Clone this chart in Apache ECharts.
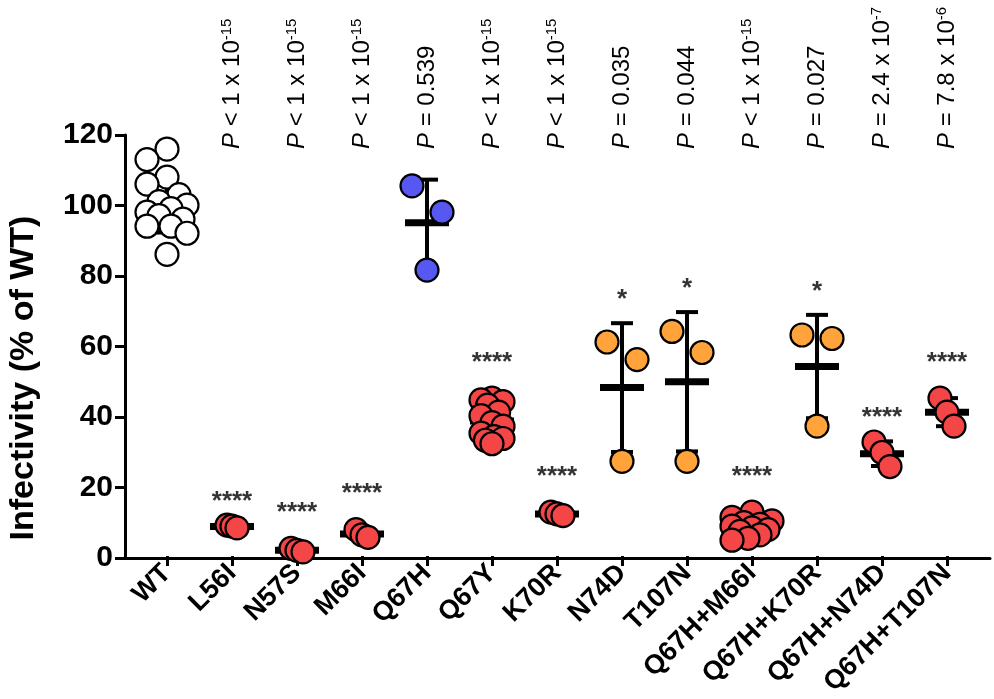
<!DOCTYPE html>
<html><head><meta charset="utf-8">
<script src="https://cdn.jsdelivr.net/npm/echarts@6/dist/echarts.min.js"></script>
<style>html,body{margin:0;padding:0;background:#fff}#c{width:994px;height:699px}</style>
</head><body><div id="c"></div>
<script>
// ---- data ----
const categories = ['WT','L56I','N57S','M66I','Q67H','Q67Y','K70R','N74D','T107N','Q67H+M66I','Q67H+K70R','Q67H+N74D','Q67H+T107N'];
const wtValues = [116,113,108,106,103,101,100,99,98,97,96,94,94,92,86];
const l56iValues = [8.8,8.5,8.0];
const n57sValues = [2.2,1.6,1.2];
const m66iValues = [7.5,6.0,5.3];
const q67hValues = [105.5,98,81.5];
const q67yValues = [45,44.5,44,43,41,40,38,37,35,34,33.5,33,32];
const k70rValues = [12.5,12,11.5];
const n74dValues = [61,56,27];
const t107nValues = [64,58,27];
const q67hM66iValues = [12.5,11,10,9.5,9,8.5,8,7.5,7,6,5,4.5];
const q67hK70rValues = [63,62,37];
const q67hN74dValues = [32.5,29.5,25.5];
const q67hT107nValues = [45,41,37];
const significance = ['','****','****','****','','****','****','*','*','****','*','****','****'];
const pMain = ['','< 1 x 10','< 1 x 10','< 1 x 10','= 0.539','< 1 x 10','< 1 x 10','= 0.035','= 0.044','< 1 x 10','= 0.027','= 2.4 x 10','= 7.8 x 10'];
const pExp = ['','-15','-15','-15','','-15','-15','','','-15','','-7','-6'];
const yTicks = {min:0, max:120, interval:20};

// ---- styling ----
const groups = [wtValues,l56iValues,n57sValues,m66iValues,q67hValues,q67yValues,k70rValues,n74dValues,t107nValues,q67hM66iValues,q67hK70rValues,q67hN74dValues,q67hT107nValues];
const WHITE='#ffffff', RED='#f44646', ORANGE='#ffa33a', BLUE='#5757f2';
const groupColors = [WHITE,RED,RED,RED,BLUE,RED,RED,ORANGE,ORANGE,RED,ORANGE,RED,RED];
// horizontal half-width (px) allowed for the point cloud of each column (style)
const spreadHalfWidth = [20,5,6,6,16,11,6,16,16,20,16,8,7];
const FONT = '"Liberation Sans", Arial, Helvetica, sans-serif';
const SYM = 23;

function mean(a){return a.reduce((s,v)=>s+v,0)/a.length;}
function sd(a){const m=mean(a);return Math.sqrt(a.reduce((s,v)=>s+(v-m)*(v-m),0)/(a.length-1));}
const stats = groups.map(g=>({m:mean(g), s:sd(g), max:Math.max(...g)}));

const chart = echarts.init(document.getElementById('c'), null, {renderer:'canvas'});

const option = {
  animation:false,
  backgroundColor:'#fff',
  textStyle:{fontFamily:FONT},
  grid:[
    {left:134.5,right:14.5,top:135,bottom:141},
    {left:125,right:4,top:135,bottom:141}
  ],
  xAxis:[
    {gridIndex:0,type:'category',data:categories,boundaryGap:true,
     axisLine:{show:false},
     axisTick:{show:true,alignWithLabel:true,length:10,lineStyle:{color:'#000',width:3}},
     axisLabel:{interval:0,rotate:45,fontSize:27,fontWeight:'bold',color:'#000',fontFamily:FONT,margin:13},
     splitLine:{show:false}},
    {gridIndex:0,type:'category',position:'top',offset:-16,data:categories,boundaryGap:true,
     axisLine:{show:false},axisTick:{show:false},splitLine:{show:false},
     axisLabel:{interval:0,rotate:-90,margin:2,color:'#000',fontSize:24,fontFamily:FONT,
       formatter:(v,i)=>{ if(!pMain[i]) return ''; return '{p|P} {t|'+pMain[i]+'}'+(pExp[i]?'{sup|'+pExp[i]+'}':''); },
       rich:{p:{fontStyle:'italic',fontSize:24,color:'#000',fontFamily:FONT,lineHeight:26},
             t:{fontSize:24,color:'#000',fontFamily:FONT,lineHeight:26},
             sup:{fontSize:15,color:'#000',fontFamily:FONT,verticalAlign:'top',lineHeight:15}}}},
    {gridIndex:1,type:'value',min:0,max:1,
     axisLine:{show:true,lineStyle:{color:'#000',width:3}},axisTick:{show:false},axisLabel:{show:false},splitLine:{show:false}}
  ],
  yAxis:[
    {gridIndex:0,type:'value',min:yTicks.min,max:yTicks.max,show:false},
    {gridIndex:1,type:'value',min:yTicks.min,max:yTicks.max,interval:yTicks.interval,
     axisLine:{show:true,lineStyle:{color:'#000',width:3}},
     axisTick:{show:true,length:10,lineStyle:{color:'#000',width:3}},
     axisLabel:{fontSize:30,fontWeight:'bold',color:'#000',fontFamily:FONT,margin:12},
     splitLine:{show:false}}
  ],
  graphic:[{type:'text',x:24,y:378,rotation:Math.PI/2,
    style:{text:'Infectivity (% of WT)',font:'bold 34px '+FONT,fill:'#000',textAlign:'center',textVerticalAlign:'middle'}}],
  series:[]
};
chart.setOption(option);

// vertical pixel position helper (from the axis scale)
function py(v){return chart.convertToPixel({xAxisIndex:0,yAxisIndex:0},[0,v])[1];}

// large groups: simple swarm, small groups: symmetric rows of nearby points
function swarm(vals, half){
  const placed=[], out=[];
  const order = vals.map((v,k)=>k).sort((a,b)=>vals[b]-vals[a]);
  const minD=21, steps=5, step=half/steps;
  for(const k of order){
    const y=py(vals[k]); let best=null, bestScore=-1;
    for(let t=0;t<=2*steps;t++){
      const c = t===0?0:((t%2)?-Math.ceil(t/2)*step:Math.ceil(t/2)*step);
      const dmin = placed.length?Math.min(...placed.map(p=>Math.hypot(p.x-c,p.y-y))):Infinity;
      if(dmin>=minD){best=c;break;}
      if(dmin>bestScore+0.01){bestScore=dmin;best=c;}
    }
    placed.push({x:best,y}); out[k]=best;
  }
  const lo=Math.min(...out), hi=Math.max(...out), mid=(lo+hi)/2;
  let r = out.map(o=>o-mid);
  const mx=Math.max(...r.map(Math.abs));
  if(mx>0) r=r.map(o=>o*half/mx);
  return r;
}
function rows(vals, half){
  const order = vals.map((v,k)=>k).sort((a,b)=>vals[b]-vals[a]);
  const out=[]; let bin=[]; let lastY=null;
  const flush=()=>{
    const n=bin.length; const sp = n>1?Math.min(30, 2*half/(n-1)):0;
    bin.forEach((k,j)=>{out[k]=(j-(n-1)/2)*sp;});
    bin=[];
  };
  for(const k of order){
    const y=py(vals[k]);
    if(lastY!==null && y-lastY>28) flush();
    bin.push(k); lastY=y;
  }
  flush();
  return out;
}
function layout(vals, half){ return vals.length>4 ? swarm(vals,half) : rows(vals,half); }

const series = [];
series.push({
  type:'custom',xAxisIndex:0,yAxisIndex:0,z:2,silent:true,
  data:stats.map((s,i)=>[i,s.m,s.s]),
  renderItem(params,api){
    const i=api.value(0), m=api.value(1), s=api.value(2);
    const c=api.coord([i,m]), t=api.coord([i,m+s]), b=api.coord([i,m-s]);
    const st={stroke:'#000',lineWidth:4};
    return {type:'group',children:[
      {type:'line',shape:{x1:c[0],y1:t[1],x2:c[0],y2:b[1]},style:st},
      {type:'line',shape:{x1:c[0]-11,y1:t[1],x2:c[0]+11,y2:t[1]},style:st},
      {type:'line',shape:{x1:c[0]-11,y1:b[1],x2:c[0]+11,y2:b[1]},style:st},
      {type:'line',shape:{x1:c[0]-22,y1:c[1],x2:c[0]+22,y2:c[1]},style:{stroke:'#000',lineWidth:7}}
    ]};
  }
});
groups.forEach((g,i)=>{
  const dx = layout(g, spreadHalfWidth[i]);
  series.push({
    type:'scatter',xAxisIndex:0,yAxisIndex:0,z:3,symbol:'circle',symbolSize:SYM,
    itemStyle:{color:groupColors[i],borderColor:'#000',borderWidth:2.2,opacity:1},
    data:g.map((v,k)=>({value:[i,v],symbolOffset:[dx[k],0]}))
  });
});
series.push({
  type:'scatter',xAxisIndex:0,yAxisIndex:0,z:4,symbol:'circle',symbolSize:1,silent:true,
  itemStyle:{color:'rgba(0,0,0,0)'},
  data:stats.map((s,i)=>{
    const pointTop = s.max >= s.m + s.s;
    return {value:[i, Math.max(s.max, s.m+s.s)],
      label:{show:!!significance[i],formatter:significance[i],position:'top',distance:pointTop?22:10,
        fontSize:26,fontWeight:'bold',color:'#000',fontFamily:FONT}};
  })
});
chart.setOption({series});
</script></body></html>
